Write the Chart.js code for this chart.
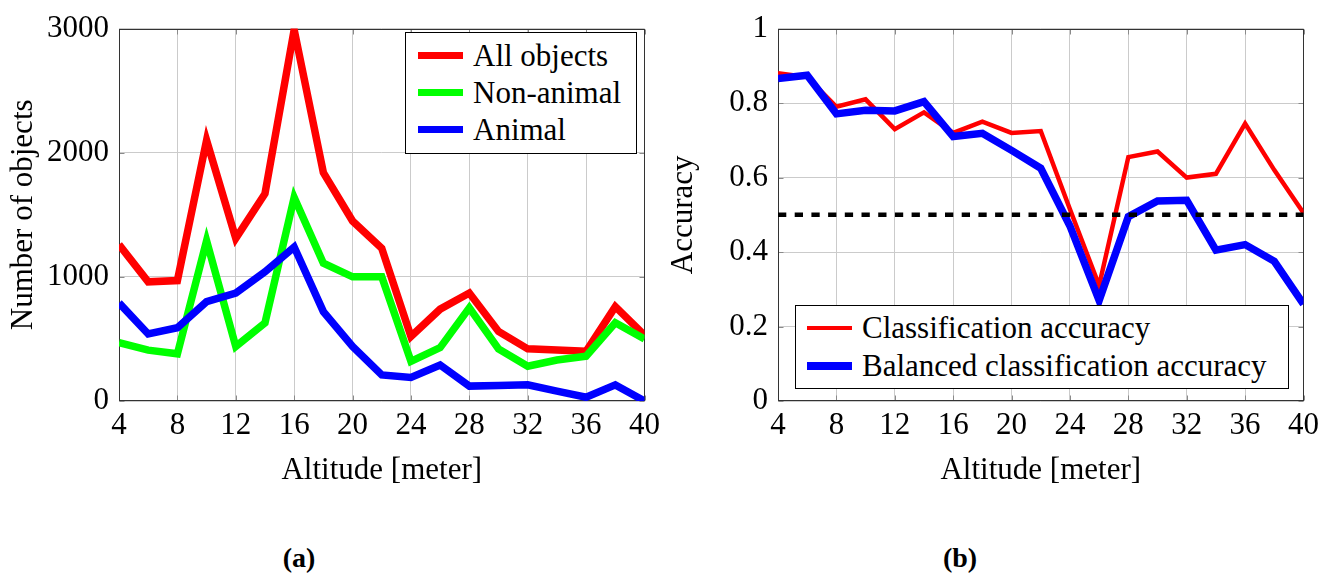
<!DOCTYPE html>
<html>
<head>
<meta charset="utf-8">
<script src="https://cdn.jsdelivr.net/npm/chart.js@4.4.1/dist/chart.umd.min.js"></script>
<style>
    body { margin: 0; background: #fff; width: 1325px; height: 573px; position: relative; overflow: hidden; font-family: "Liberation Serif", "Times New Roman", Times, "DejaVu Serif", serif; }
    #leftChart { position: absolute; left: 0; top: 0; }
    #rightChart { position: absolute; left: 662px; top: 0; }
    .legend { position: absolute; background: #fff; border: 1px solid #000; box-sizing: border-box; font-size: 31px; color: #000; }
    .legend .row { display: flex; align-items: center; white-space: nowrap; }
    .legend .swatch { display: inline-block; width: 45px; margin-right: 10px; }
    .caption { position: absolute; font-weight: bold; font-size: 28px; transform: translate(-50%, -50%); }
</style>
</head>
<body>
<canvas id="leftChart" width="666" height="492"></canvas>
<canvas id="rightChart" width="663" height="492"></canvas>
<div id="leftLegend" class="legend" style="left:405px; top:32px; width:232px; height:122px; padding:4px 0 0 12px;"></div>
<div id="rightLegend" class="legend" style="left:795px; top:305px; width:494px; height:84px; padding:3px 0 0 11px;"></div>
<div class="caption" style="left:299px; top:558px;">(a)</div>
<div class="caption" style="left:960px; top:558px;">(b)</div>

<script>
// altitude in meter
var altitudes = [4, 6, 8, 10, 12, 14, 16, 18, 20, 22, 24, 26, 28, 30, 32, 34, 36, 38, 40];
var xTicks = [4, 8, 12, 16, 20, 24, 28, 32, 36, 40];

// (a) number of objects
var allObjects = [1260, 960, 970, 2100, 1310, 1670, 2990, 1840, 1450, 1230, 520, 740, 870, 560, 420, 410, 400, 760, 530];
var nonAnimal = [470, 410, 380, 1290, 440, 630, 1640, 1110, 1000, 1000, 320, 430, 750, 420, 280, 330, 360, 630, 500];
var animal = [790, 540, 590, 800, 870, 1040, 1240, 720, 440, 210, 190, 290, 120, 125, 130, 80, 30, 130, 0];
var countTicks = [0, 1000, 2000, 3000];

// (b) accuracy
var classAcc = [0.88, 0.87, 0.79, 0.81, 0.73, 0.775, 0.72, 0.75, 0.72, 0.725, 0.515, 0.31, 0.655, 0.67, 0.60, 0.61, 0.745, 0.62, 0.505];
var balancedAcc = [0.866, 0.875, 0.771, 0.781, 0.779, 0.804, 0.71, 0.719, 0.673, 0.625, 0.47, 0.27, 0.495, 0.537, 0.539, 0.405, 0.42, 0.375, 0.26];
var chanceLevel = 0.5;
var accTicks = [0, 0.2, 0.4, 0.6, 0.8, 1];

Chart.defaults.font.family = '"Liberation Serif", "Times New Roman", Times, "DejaVu Serif", serif';
Chart.defaults.color = '#000';

var gridColor = '#cbcbcb';

function points(values) {
    return altitudes.map(function (a, i) { return { x: a, y: values[i] }; });
}

function fixedTicks(list) {
    return function (scale) {
        scale.ticks = list.map(function (v) { return { value: v }; });
    };
}

// box around the plot area plus the little inward tick marks
var frameBox = {
    id: 'frameBox',
    beforeDatasetsDraw: function (chart) {
        var ctx = chart.ctx, a = chart.chartArea;
        var xs = chart.scales.x, ys = chart.scales.y;
        var l = Math.round(a.left) + 0.5, r = Math.round(a.right) - 0.5;
        var t = Math.round(a.top) + 0.5, b = Math.round(a.bottom) - 0.5;
        ctx.save();
        ctx.strokeStyle = '#8a8a8a';
        ctx.lineWidth = 1;
        ctx.beginPath();
        xs.ticks.forEach(function (tk) {
            var px = Math.round(xs.getPixelForValue(tk.value)) + 0.5;
            ctx.moveTo(px, b); ctx.lineTo(px, b - 5);
            ctx.moveTo(px, t); ctx.lineTo(px, t + 5);
        });
        ys.ticks.forEach(function (tk) {
            var py = Math.round(ys.getPixelForValue(tk.value)) + 0.5;
            ctx.moveTo(l, py); ctx.lineTo(l + 5, py);
            ctx.moveTo(r, py); ctx.lineTo(r - 5, py);
        });
        ctx.stroke();
        ctx.strokeStyle = '#333';
        ctx.strokeRect(l, t, r - l, b - t);
        ctx.restore();
    }
};

function xAxis() {
    return {
        type: 'linear',
        min: 4,
        max: 40,
        afterBuildTicks: fixedTicks(xTicks),
        afterFit: function (s) { s.height = 91; },
        grid: { color: gridColor, drawTicks: false },
        border: { display: false },
        ticks: { padding: 6, maxRotation: 0, autoSkip: false, font: { size: 31 }, callback: function (v) { return String(v); } },
        title: { display: true, text: 'Altitude [meter]', font: { size: 31 }, padding: { top: 0, bottom: 3 } }
    };
}

function yAxis(max, list, width, title, titlePad) {
    return {
        min: 0,
        max: max,
        afterBuildTicks: fixedTicks(list),
        afterFit: function (s) { s.width = width; },
        grid: { color: gridColor, drawTicks: false },
        border: { display: false },
        ticks: { padding: 10, font: { size: 31 }, callback: function (v) { return String(v); } },
        title: { display: true, text: title, font: { size: 31 }, padding: { top: titlePad, bottom: 0 } }
    };
}

function lineSet(label, values, color, width, order) {
    return {
        label: label,
        data: points(values),
        borderColor: color,
        backgroundColor: color,
        borderWidth: width,
        borderJoinStyle: 'miter',
        borderCapStyle: 'butt',
        pointRadius: 0,
        tension: 0,
        fill: false,
        clip: 0,
        order: order
    };
}

var leftChart = new Chart(document.getElementById('leftChart'), {
    type: 'line',
    data: {
        datasets: [
            lineSet('All objects', allObjects, '#ff0000', 7.5, 3),
            lineSet('Non-animal', nonAnimal, '#00ff00', 7.5, 2),
            lineSet('Animal', animal, '#0000ff', 7.5, 1)
        ]
    },
    options: {
        responsive: false,
        animation: false,
        devicePixelRatio: 1,
        layout: { padding: { top: 24, right: 17, bottom: 0, left: 0 } },
        plugins: { legend: { display: false }, tooltip: { enabled: false } },
        scales: {
            x: xAxis(),
            y: yAxis(3000, countTicks, 119, 'Number of objects', 5)
        }
    },
    plugins: [frameBox]
});

var chanceSet = lineSet('Chance', [], '#000000', 4.5, 0);
chanceSet.data = [{ x: altitudes[0], y: chanceLevel }, { x: altitudes[altitudes.length - 1], y: chanceLevel }];
chanceSet.borderDash = [8.3, 8.4];

var rightChart = new Chart(document.getElementById('rightChart'), {
    type: 'line',
    data: {
        datasets: [
            lineSet('Classification accuracy', classAcc, '#ff0000', 4.5, 2),
            lineSet('Balanced classification accuracy', balancedAcc, '#0000ff', 7.5, 1),
            chanceSet
        ]
    },
    options: {
        responsive: false,
        animation: false,
        devicePixelRatio: 1,
        layout: { padding: { top: 24, right: 17, bottom: 0, left: 0 } },
        plugins: { legend: { display: false }, tooltip: { enabled: false } },
        scales: {
            x: xAxis(),
            y: yAxis(1, accTicks, 116, 'Accuracy', 3)
        }
    },
    plugins: [frameBox]
});

function buildLegend(boxId, chart, count, rowHeight) {
    var box = document.getElementById(boxId);
    chart.data.datasets.slice(0, count).forEach(function (ds) {
        var row = document.createElement('div');
        row.className = 'row';
        row.style.height = rowHeight + 'px';
        var sw = document.createElement('span');
        sw.className = 'swatch';
        sw.style.height = ds.borderWidth + 'px';
        sw.style.background = ds.borderColor;
        var txt = document.createElement('span');
        txt.textContent = ds.label;
        row.appendChild(sw);
        row.appendChild(txt);
        box.appendChild(row);
    });
}

buildLegend('leftLegend', leftChart, 3, 37);
buildLegend('rightLegend', rightChart, 2, 38);
</script>
</body>
</html>
